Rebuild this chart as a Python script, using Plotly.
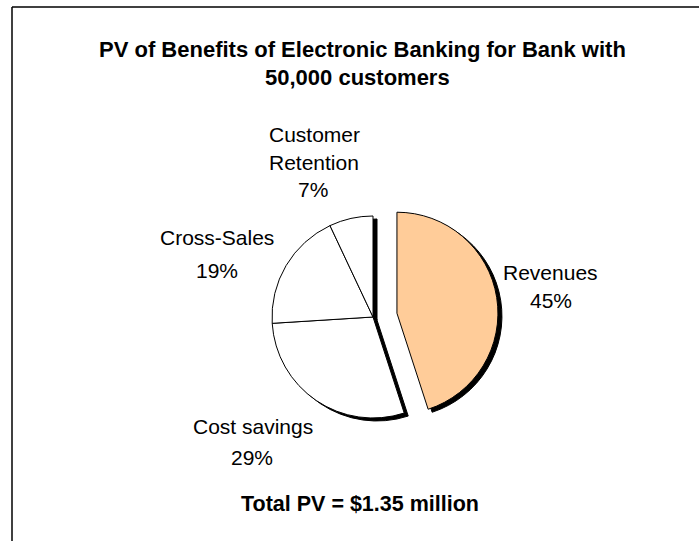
import plotly.graph_objects as go

# Present value of benefits, share by source (percent of total)
categories = ["Revenues", "Cost savings", "Cross-Sales", "Customer Retention"]
values = [45, 29, 19, 7]
pulls = [0.24, 0, 0, 0]
slice_colors = ["#FFCC99", "#FFFFFF", "#FFFFFF", "#FFFFFF"]

title_lines = ["PV of Benefits of Electronic Banking for Bank with", "50,000 customers"]
footer_text = "Total PV = $1.35 million"

W, H = 699, 541
FONT = "Liberation Sans, Arial, sans-serif"


def fx(px):
    return px / W


def fy(py):
    return 1 - py / H


# pie geometry in pixels
cx, cy, r = 373, 317, 101
half = r * (1 + max(pulls))
shadow_dx, shadow_dy = 4, 3


def domain(dx=0, dy=0):
    return dict(
        x=[fx(cx + dx - half), fx(cx + dx + half)],
        y=[fy(cy + dy + half), fy(cy + dy - half)],
    )


common = dict(
    labels=categories,
    values=values,
    pull=pulls,
    sort=False,
    direction="clockwise",
    rotation=0,
    textinfo="none",
    hoverinfo="label+percent",
    showlegend=False,
)

fig = go.Figure()
# drop shadow
fig.add_trace(go.Pie(
    **common,
    domain=domain(shadow_dx, shadow_dy),
    marker=dict(colors=["#000000"] * len(values), line=dict(color="#000000", width=1)),
))
# main pie
fig.add_trace(go.Pie(
    **common,
    domain=domain(),
    marker=dict(colors=slice_colors, line=dict(color="#000000", width=1)),
))

total = sum(values)
pct = [f"{v / total * 100:.0f}%" for v in values]

annotations = []


def add_text(text, x, y, size=21, bold=False):
    annotations.append(dict(
        text=f"<b>{text}</b>" if bold else text,
        x=fx(x), y=fy(y), xref="paper", yref="paper",
        xanchor="center", yanchor="middle", showarrow=False,
        font=dict(family=FONT, size=size, color="#000000"),
    ))


add_text(title_lines[0], 362, 49, size=22, bold=True)
add_text(title_lines[1], 357, 77, size=22, bold=True)

# slice labels
add_text("Revenues", 550, 272)
add_text(pct[0], 551, 300)
add_text("Cost savings", 253, 426)
add_text(pct[1], 252, 457)
add_text("Cross-Sales", 217, 237)
add_text(pct[2], 217, 270)
add_text("Customer", 314, 134)
add_text("Retention", 314, 162)
add_text(pct[3], 313, 189)

add_text(footer_text, 360, 504, size=21.5, bold=True)

shapes = [
    dict(type="line", xref="paper", yref="paper", x0=fx(12), x1=fx(12), y0=fy(7), y1=fy(560),
         line=dict(color="#000000", width=1.5)),
    dict(type="line", xref="paper", yref="paper", x0=fx(12), x1=fx(720), y0=fy(7), y1=fy(7),
         line=dict(color="#000000", width=1.5)),
]

fig.update_layout(
    width=W, height=H,
    margin=dict(l=0, r=0, t=0, b=0),
    paper_bgcolor="#FFFFFF",
    plot_bgcolor="#FFFFFF",
    annotations=annotations,
    shapes=shapes,
)

fig.write_html("out.html", config={"displayModeBar": False})
